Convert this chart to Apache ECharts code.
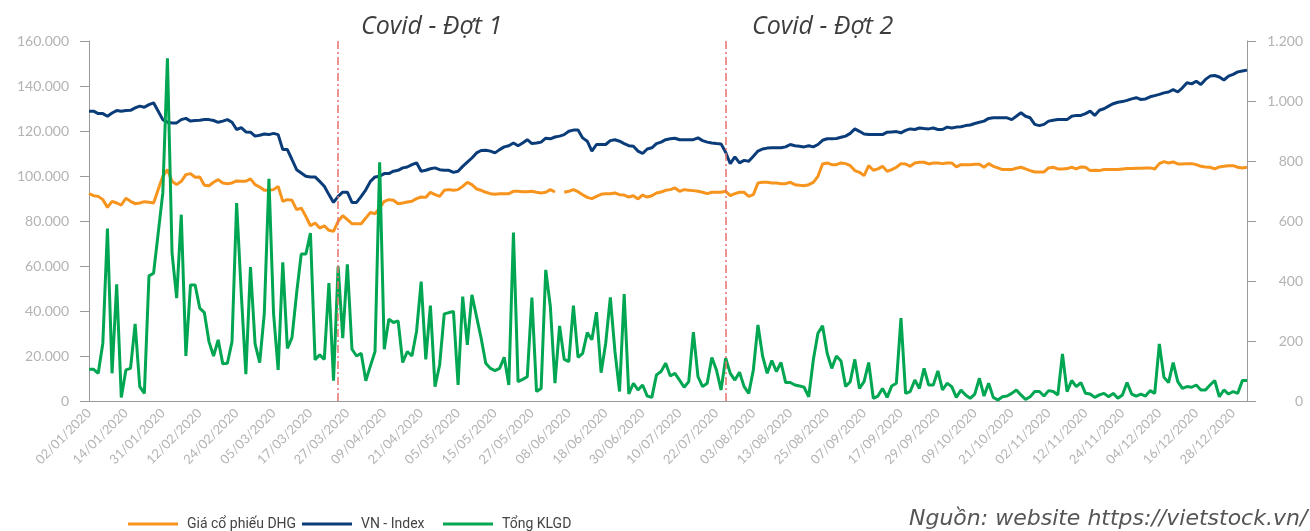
<!DOCTYPE html>
<html>
<head>
<meta charset="utf-8">
<script src="https://cdn.jsdelivr.net/npm/echarts@6/dist/echarts.min.js"></script>
<style>
html,body{margin:0;padding:0;background:#fff;}
#chart{width:1310px;height:531px;}
</style>
</head>
<body>
<div id="chart"></div>
<script>
// Trading-day calendar (HOSE 2020): weekdays minus market holidays
const holidays = ['2020-01-01','2020-01-23','2020-01-24','2020-01-27','2020-01-28','2020-01-29',
  '2020-04-02','2020-04-30','2020-05-01','2020-09-02'];
const categories = [];
for (let d = new Date(Date.UTC(2020,0,1)); d.getUTCFullYear() === 2020; d.setUTCDate(d.getUTCDate()+1)) {
  const wd = d.getUTCDay();
  if (wd === 0 || wd === 6) continue;
  const iso = d.toISOString().slice(0,10);
  if (holidays.includes(iso)) continue;
  categories.push(iso.slice(8,10) + '/' + iso.slice(5,7) + '/' + iso.slice(0,4));
}

const seriesNames = ['Giá cổ phiếu DHG', 'VN - Index', 'Tổng KLGD'];

// Giá cổ phiếu DHG (left axis)
const dhgPrice = [
  92150, 91250, 90950, 89500, 86050, 88750, 88000, 87100, 90100, 88750,
  87700, 88000, 88600, 88300, 88000, 93950, 99850, 102850, 97650, 96150,
  97650, 100600, 101050, 99450, 99600, 95850, 95700, 97200, 98400, 96900,
  96600, 96900, 97800, 97650, 97650, 98700, 96150, 95100, 93650, 93650,
  93950, 95400, 88750, 89500, 89200, 85050, 85750, 82050, 77900, 79100,
  76850, 77900, 75850, 75400, 79850, 82350, 80600, 78800, 78800, 78800,
  81300, 83850, 83250,
  85800, 88750, 89500, 89200, 87700, 88000, 88450, 88750, 89950, 90650,
  90500, 92750, 91700, 90950, 93650, 93950, 93650, 93950, 95400, 97200,
  96150, 94250, 93650, 92750, 92150, 91850, 92150, 92150, 92150, 93200,
  93200, 93050, 93050, 93200, 92750, 92450, 92750, 93950, 92900, null,
  92750, 93200, 93950, 93050, 91700, 90500, 89950, 90950, 91850, 92150,
  92150, 92450, 91700, 91550, 90650, 91250, 89800, 91550, 90650, 91250,
  92450,
  92900, 93650, 93950, 94700, 93200, 93950, 93650, 93500, 93200, 92750,
  92150, 92750, 92750, 92750, 93200, 91250, 92150, 92750, 92750, 90950,
  91700, 96900, 97200, 97200, 96900, 96900, 96600, 96600, 97200, 96150,
  95850, 95700, 96150, 97200, 99850, 105350, 105800, 105050, 105050, 105800,
  105500, 104600, 102400, 101650, 100150, 104600, 102550, 103150, 104300, 102100,
  102850, 103900, 105500, 105350, 104300, 105800, 106100, 106100, 105350, 105800,
  105800, 105500, 105800, 105800, 104050, 105050, 105050, 105050, 105200, 105200,
  103900, 105500, 104300, 103600, 102850, 102850, 102850, 103450, 103900, 103150,
  102400, 101800, 101800, 101800, 103600, 103900, 103150, 103150, 103300, 103900,
  103150, 104050, 103900, 102400, 102550, 102400, 102850, 102850, 102850, 102850,
  103150, 103300, 103300, 103450, 103450, 103600, 103600, 103150, 105500, 106400,
  105800, 106250, 105350, 105350, 105500, 105500, 105050, 104300, 104050, 103900,
  103150, 104050, 104300, 104600, 104600, 103900, 103600, 103900
];

// VN-Index (right axis)
const vnIndex = [
  966, 966, 958, 958, 949, 960, 968, 966, 968, 969,
  977, 983, 979, 988, 994, 966, 938, 929, 927, 927,
  938, 942, 933, 935, 936, 938, 938, 935, 929, 933,
  938, 929, 905, 911, 897, 896, 883, 886, 890, 888,
  892, 888, 838, 838, 805, 771, 760, 749, 747, 747,
  732, 716, 688, 662, 682, 696, 696, 662, 662, 682,
  704, 732, 747,
  749, 758, 758, 766, 769, 777, 780, 788, 794, 766,
  769, 774, 777, 771, 769, 769, 762, 766, 782, 796,
  810, 827, 835, 836, 833, 827, 838, 847, 851, 860,
  851, 860, 871, 858, 860, 863, 876, 874, 880, 883,
  888, 899, 903, 903, 877, 866, 833, 855, 855, 855,
  868, 871, 866, 858, 851, 849, 833, 825, 840, 844,
  858,
  863, 871, 874, 876, 871, 871, 871, 871, 877, 868,
  863, 860, 858, 857, 829, 791, 814, 794, 802, 799,
  816, 833, 840, 843, 844, 844, 844, 847, 855, 851,
  849, 847, 851, 847, 855, 869, 874, 874, 875, 879,
  883, 892, 907, 899, 890, 888, 888, 888, 888, 896,
  897, 898, 894, 902, 907, 905, 910, 908, 907, 910,
  905, 905, 913, 910, 913, 914, 918, 920, 925, 929,
  933, 942, 944, 944, 944, 944, 938, 949, 961, 949,
  944, 922, 918, 922, 933, 936, 938, 938, 938, 949,
  952, 952, 958, 966, 952, 969, 974, 983, 991, 996,
  998, 1002, 1007, 1011, 1005, 1007, 1014, 1018, 1022, 1027,
  1030, 1038, 1030, 1044, 1061, 1057, 1066, 1055, 1072, 1083,
  1085, 1080, 1070, 1083, 1089, 1097, 1100, 1103
];

// Tổng KLGD (left axis)
const volume = [
  14100, 14100, 12300, 25700, 76600, 12300, 51900, 1600, 13800, 14500,
  34300, 6400, 3400, 55600, 56800, 74600, 92500, 152300, 65700, 45700,
  82800, 20000, 51600, 51600, 41300, 39300, 26400, 20000, 27200, 16500,
  16800, 26400, 88000, 48000, 11900, 59500, 25400, 17100, 39000, 98700,
  39000, 13800, 61600, 23400, 28200, 47900, 65300, 65300, 74600, 18300,
  20500, 18500, 52400, 9000, 59800, 27900, 60700, 23000, 20000, 21200,
  9000, 15600, 22000,
  106100, 23000, 36400, 34900, 35600, 17100, 22000, 20000, 31000, 53100,
  18500, 42400, 6400, 16000, 38700, 39300, 39800, 7100, 46400, 24900,
  47200, 37500, 27900, 16800, 14500, 13500, 14500, 19400, 7100, 74900,
  8600, 9600, 10800, 46000, 4200, 5600, 58300, 42000, 7900, 33400,
  18500, 17500, 42400, 19400, 21200, 30400, 27200, 39500, 12600, 25700,
  46000, 22000, 4200, 47500, 3100, 7900, 4900, 7100, 2200, 1600,
  11600,
  13100, 16800, 11100, 12300, 9300, 6100, 8600, 30600, 10800, 6400,
  7900, 19300, 13800, 4900, 19000, 12300, 9300, 12800, 6400, 3400,
  13800, 33800, 20000, 12300, 18000, 13100, 17100, 8200, 8200, 7100,
  6700, 6100, 1900, 18300, 30100, 33400, 21200, 14500, 20000, 17800,
  6400, 8600, 18500, 5600, 8600, 17100, 1200, 2200, 5600, 1600,
  6700, 7900, 36800, 3400, 4200, 9300, 5600, 14500, 7100, 7100,
  13400, 4900, 7900, 6400, 1600, 4900, 2700, 1200, 3100, 10100,
  2200, 7900, 1600, 450, 1900, 2200, 3400, 4900, 2700, 740,
  1900, 4200, 4200, 2200, 4600, 4200, 2700, 20900, 4200, 9100,
  6400, 8200, 3400, 3100, 1600, 2700, 3400, 1900, 3400, 1200,
  2700, 8200, 3100, 2200, 3100, 2200, 4600, 3400, 25400, 10500,
  8200, 17100, 8600, 5600, 6400, 6100, 7100, 4900, 4900, 7100,
  9100, 1900, 4900, 3100, 4200, 3400, 9100, 9100
];

// Covid wave markers
const covidDates = ['25/03/2020', '24/07/2020'];
const covidLabels = ['Covid - Đợt 1', 'Covid - Đợt 2'];

const colors = ['#f7941d', '#0b3c7a', '#00a651'];
const dotFmt = v => String(v).replace(/\B(?=(\d{3})+(?!\d))/g, '.');

const chart = echarts.init(document.getElementById('chart'), null, {renderer: 'canvas'});
const axisGray = '#9a9a9a';
const labelGray = '#b3b3b3';

const legendBase = {
  top: 512, icon: 'rect', itemWidth: 50, itemHeight: 3,
  textStyle: {fontFamily: 'Roboto', fontSize: 14, color: '#444', padding: [0, 0, 0, 4]},
  selectedMode: false
};

chart.setOption({
  animation: false,
  color: colors,
  grid: {left: 89, right: 63, top: 41, bottom: 130, containLabel: false, outerBoundsMode: 'none'},
  legend: [
    Object.assign({}, legendBase, {data: [seriesNames[0]], left: 123}),
    Object.assign({}, legendBase, {data: [seriesNames[1]], left: 297}),
    Object.assign({}, legendBase, {data: [seriesNames[2]], left: 438})
  ],
  xAxis: {
    type: 'category',
    data: categories,
    boundaryGap: false,
    axisLine: {lineStyle: {color: axisGray, width: 1}},
    axisTick: {show: false},
    axisLabel: {
      interval: 7, rotate: 45, margin: 10,
      color: labelGray, fontFamily: 'Lato', fontSize: 13
    },
    splitLine: {show: false}
  },
  yAxis: [
    {
      type: 'value', min: 0, max: 160000, interval: 20000, position: 'left',
      axisLine: {show: true, lineStyle: {color: axisGray}},
      axisTick: {show: true, inside: false, length: 9, lineStyle: {color: axisGray}},
      axisLabel: {color: labelGray, fontFamily: 'Lato', fontSize: 14, margin: 20,
        padding: [0, 0, 8, 0], formatter: v => dotFmt(v)},
      splitLine: {show: false}
    },
    {
      type: 'value', min: 0, max: 1200, interval: 200, position: 'right',
      axisLine: {show: true, lineStyle: {color: axisGray}},
      axisTick: {show: true, inside: false, length: 9, lineStyle: {color: axisGray}},
      axisLabel: {color: labelGray, fontFamily: 'Lato', fontSize: 14, margin: 56, align: 'right',
        padding: [0, 0, 8, 0], formatter: v => dotFmt(v)},
      splitLine: {show: false}
    }
  ],
  series: [
    {
      name: seriesNames[0], type: 'line', yAxisIndex: 0, data: dhgPrice,
      showSymbol: false, symbol: 'none', connectNulls: false,
      lineStyle: {width: 3, color: colors[0]},
      markLine: {
        silent: true, symbol: 'none', label: {show: false},
        lineStyle: {color: '#e8736c', width: 1.5, type: [8, 3, 2, 3]},
        data: covidDates.map(d => ({xAxis: d}))
      }
    },
    {
      name: seriesNames[1], type: 'line', yAxisIndex: 1, data: vnIndex,
      showSymbol: false, symbol: 'none',
      lineStyle: {width: 3, color: colors[1]}
    },
    {
      name: seriesNames[2], type: 'line', yAxisIndex: 0, data: volume,
      showSymbol: false, symbol: 'none',
      lineStyle: {width: 3, color: colors[2]}
    }
  ],
  graphic: [
    {type: 'text', left: 361, top: 14,
      style: {text: covidLabels[0], font: 'italic 25px "Open Sans"', fill: '#3d3d3d'}},
    {type: 'text', left: 752, top: 14,
      style: {text: covidLabels[1], font: 'italic 25px "Open Sans"', fill: '#3d3d3d'}},
    {type: 'text', left: 909, top: 508,
      style: {text: 'Nguồn: website https://vietstock.vn/', font: 'oblique 22px "DejaVu Sans"', fill: '#555'}}
  ]
});
</script>
</body>
</html>
